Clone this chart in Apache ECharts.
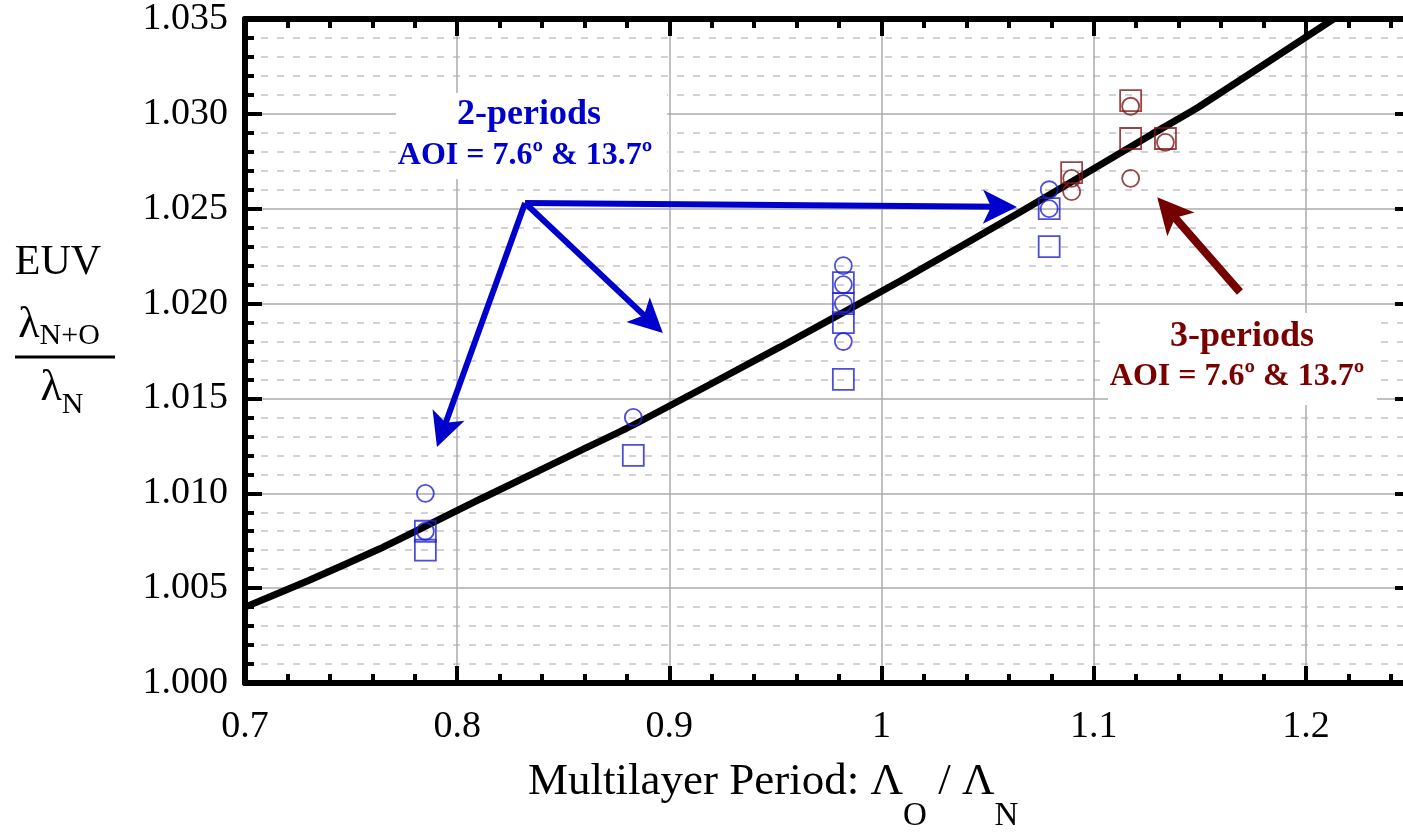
<!doctype html>
<html>
<head>
    <meta charset="utf-8">
    <title>EUV wavelength ratio vs multilayer period</title>
    <script src="https://cdn.jsdelivr.net/npm/echarts@6/dist/echarts.min.js"></script>
    <style>
        html, body{ margin:0; padding:0; background:#fff; overflow:hidden; width:1403px; height:833px; }
        /* 右边框在原图中被裁掉，这里把画布做宽一点 */
        #chartBox{ width:1420px; height:833px; }
    </style>
</head>
<body>
    <div id="chartBox"></div>
<script type="text/javascript">
    // 曲线（读图得到的点）
    var curveX = [0.700, 0.730, 0.764, 0.784, 0.811, 0.859, 0.883, 0.952, 1.009, 1.065, 1.127, 1.150, 1.213];
    var curveY = [1.0040, 1.0054, 1.0071, 1.0082, 1.0097, 1.0123, 1.0136, 1.0177, 1.0212, 1.0248, 1.0289, 1.0304, 1.0350];

    // 2-periods 数据
    var blueCircleX = [0.785, 0.785, 0.883, 0.982, 0.982, 0.982, 0.982, 1.079, 1.079];
    var blueCircleY = [1.0100, 1.0080, 1.0140, 1.0220, 1.0210, 1.0200, 1.0180, 1.0260, 1.0250];
    var blueSquareX = [0.785, 0.785, 0.883, 0.982, 0.982, 0.982, 0.982, 1.079, 1.079];
    var blueSquareY = [1.0080, 1.0070, 1.0120, 1.0211, 1.0200, 1.0190, 1.0160, 1.0250, 1.0230];

    // 3-periods 数据
    var redCircleX = [1.0896, 1.0896, 1.1174, 1.1174, 1.1338];
    var redCircleY = [1.0266, 1.0259, 1.0304, 1.0266, 1.0285];
    var redSquareX = [1.0896, 1.1174, 1.1174, 1.1338];
    var redSquareY = [1.0269, 1.0307, 1.0287, 1.0287];

    // 箭头（数据坐标）
    var blueArrowFrom = [0.8320, 1.0253];
    var blueArrowTo = [[1.0558, 1.0251], [0.8911, 1.01906], [0.7932, 1.01328]];
    var redArrowFrom = [1.1689, 1.02061];
    var redArrowTo = [1.1355, 1.02489];

    var xTicks = [0.7, 1.25, 0.1];
    var yTicks = [1.000, 1.035, 0.005];

    function pairs(xs, ys){
        var out = [];
        for (var i = 0; i < xs.length; i++) out.push([xs[i], ys[i]]);
        return out;
    }

    var SERIF = '"Liberation Serif", "Times New Roman", serif';
    var BLUE = '#0000cc', BLUE_MK = '#2020d0';
    var RED = '#7a0000', RED_MK = '#7f1717';
    var HEAD = 'path://M50,0 L100,100 L50,76 L0,100 Z';

    function frameAxis(pos, isX, showLabel){
        var a = {
            type: 'value',
            position: pos,
            min: isX ? xTicks[0] : yTicks[0],
            max: isX ? xTicks[1] : yTicks[1],
            interval: isX ? xTicks[2] : yTicks[2],
            axisLine: { show: true, onZero: false, lineStyle: { color: '#000', width: 6 } },
            axisTick: { show: true, inside: true, length: 17, lineStyle: { color: '#000', width: 4 } },
            minorTick: { show: true, splitNumber: 5, length: 9, lineStyle: { color: '#000', width: 4 } },
            axisLabel: { show: false },
            splitLine: { show: false },
            minorSplitLine: { show: false }
        };
        if (showLabel) {
            a.axisLabel = {
                show: true,
                color: '#000',
                fontFamily: SERIF,
                fontSize: 38,
                margin: isX ? 25 : 17,
                showMaxLabel: isX ? false : true,
                formatter: isX ? null : function(v){ return v.toFixed(3); }
            };
            a.splitLine = { show: true, lineStyle: { color: '#ababab', width: 1.5 } };
            if (!isX) {
                a.minorSplitLine = { show: true, lineStyle: { color: '#c4c4c4', width: 1.5, type: [7, 9] } };
            }
        }
        return a;
    }

    var myChart = echarts.init(document.getElementById('chartBox'), null, { renderer: 'canvas' });
    var option = {
        animation: false,
        backgroundColor: '#fff',
        grid: { left: 245, top: 19, width: 1167, height: 664, containLabel: false },
        xAxis: [frameAxis('bottom', true, true), frameAxis('top', true, false)],
        yAxis: [frameAxis('left', false, true), frameAxis('right', false, false)],
        series: [
            {
                type: 'line',
                data: pairs(curveX, curveY),
                showSymbol: false,
                symbol: 'none',
                smooth: 0.2,
                clip: true,
                silent: true,
                lineStyle: { color: '#000', width: 7 },
                z: 3
            },
            {
                type: 'scatter',
                data: pairs(blueSquareX, blueSquareY),
                symbol: 'rect',
                symbolSize: 21,
                itemStyle: { color: 'rgba(0,0,0,0)', borderColor: BLUE_MK, borderWidth: 1.8 },
                silent: true,
                z: 4
            },
            {
                type: 'scatter',
                data: pairs(blueCircleX, blueCircleY),
                symbol: 'circle',
                symbolSize: 17,
                itemStyle: { color: 'rgba(0,0,0,0)', borderColor: BLUE_MK, borderWidth: 1.8 },
                silent: true,
                z: 4,
                markLine: {
                    silent: true,
                    symbol: ['none', HEAD],
                    symbolSize: 34,
                    label: { show: false },
                    lineStyle: { color: BLUE, width: 6, type: 'solid' },
                    emphasis: { disabled: true },
                    data: blueArrowTo.map(function(p){
                        return [{ coord: blueArrowFrom }, { coord: p }];
                    })
                }
            },
            {
                type: 'scatter',
                data: pairs(redSquareX, redSquareY),
                symbol: 'rect',
                symbolSize: 21,
                itemStyle: { color: 'rgba(0,0,0,0)', borderColor: RED_MK, borderWidth: 1.8 },
                silent: true,
                z: 4
            },
            {
                type: 'scatter',
                data: pairs(redCircleX, redCircleY),
                symbol: 'circle',
                symbolSize: 17,
                itemStyle: { color: 'rgba(0,0,0,0)', borderColor: RED_MK, borderWidth: 1.8 },
                silent: true,
                z: 4,
                markLine: {
                    silent: true,
                    symbol: ['none', HEAD],
                    symbolSize: 36,
                    label: { show: false },
                    lineStyle: { color: '#740000', width: 8, type: 'solid' },
                    emphasis: { disabled: true },
                    data: [[{ coord: redArrowFrom }, { coord: redArrowTo }]]
                }
            }
        ],
        graphic: [
            // 标注背景
            { type: 'rect', z: 1, shape: { x: 396, y: 93, width: 271, height: 86 }, style: { fill: '#fff' } },
            { type: 'rect', z: 1, shape: { x: 1108, y: 313, width: 269, height: 92 }, style: { fill: '#fff' } },
            { type: 'text', z: 5, style: { x: 529, y: 115, text: '2-periods', fill: BLUE, font: 'bold 36px ' + SERIF, align: 'center', verticalAlign: 'middle' } },
            { type: 'text', z: 5, style: { x: 525, y: 156, text: 'AOI = 7.6º & 13.7º', fill: BLUE, font: 'bold 32px ' + SERIF, align: 'center', verticalAlign: 'middle' } },
            { type: 'text', z: 5, style: { x: 1242, y: 337, text: '3-periods', fill: RED, font: 'bold 36px ' + SERIF, align: 'center', verticalAlign: 'middle' } },
            { type: 'text', z: 5, style: { x: 1237, y: 377, text: 'AOI = 7.6º & 13.7º', fill: RED, font: 'bold 32px ' + SERIF, align: 'center', verticalAlign: 'middle' } },
            // x 轴标题
            {
                type: 'text', z: 5,
                style: {
                    x: 528, y: 782, align: 'left', verticalAlign: 'middle',
                    text: '{a|Multilayer Period: Λ}{s|O}{a| / Λ}{s|N}',
                    rich: {
                        a: { fontSize: 45, fontFamily: SERIF, fill: '#000', lineHeight: 50 },
                        s: { fontSize: 33, fontFamily: SERIF, fill: '#000', lineHeight: 10, padding: [68, 0, 0, 0] }
                    }
                }
            },
            // y 轴标题
            { type: 'text', z: 5, style: { x: 58, y: 263, text: 'EUV', fill: '#000', font: '42px ' + SERIF, align: 'center', verticalAlign: 'middle' } },
            {
                type: 'text', z: 5,
                style: {
                    x: 59, y: 325, align: 'center', verticalAlign: 'middle',
                    text: '{a|λ}{s|N+O}',
                    rich: {
                        a: { fontSize: 44, fontFamily: SERIF, fill: '#000', lineHeight: 50 },
                        s: { fontSize: 30, fontFamily: SERIF, fill: '#000', lineHeight: 10, padding: [22, 0, 0, 0] }
                    }
                }
            },
            { type: 'line', z: 5, shape: { x1: 15, y1: 357, x2: 115, y2: 357 }, style: { stroke: '#000', lineWidth: 3 } },
            {
                type: 'text', z: 5,
                style: {
                    x: 62, y: 388, align: 'center', verticalAlign: 'middle',
                    text: '{a|λ}{s|N}',
                    rich: {
                        a: { fontSize: 44, fontFamily: SERIF, fill: '#000', lineHeight: 50 },
                        s: { fontSize: 30, fontFamily: SERIF, fill: '#000', lineHeight: 10, padding: [34, 0, 0, 0] }
                    }
                }
            }
        ]
    };
    myChart.setOption(option);
</script>
</body>
</html>
